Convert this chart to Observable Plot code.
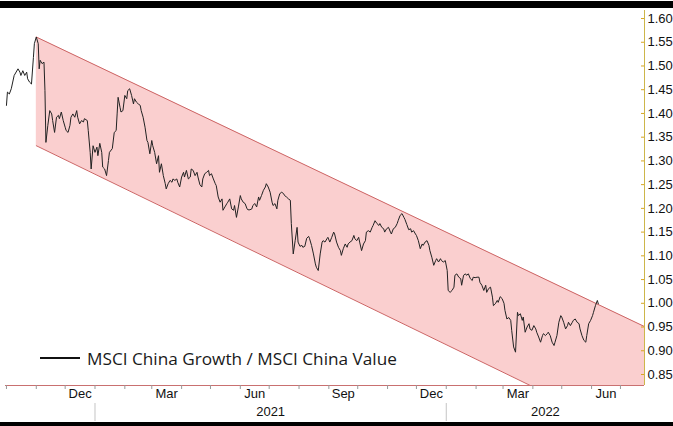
<!DOCTYPE html>
<html><head><meta charset="utf-8">
<script src="https://cdn.jsdelivr.net/npm/d3@7"></script>
<script src="https://cdn.jsdelivr.net/npm/@observablehq/plot@0.6"></script>
<style>
body{margin:0;background:#fff;overflow:hidden}
#wrap{position:relative;width:673px;height:426px;overflow:hidden}
.bar{position:absolute;left:0;width:673px;background:#000}
#legend{position:absolute;left:40px;top:346px;height:24px;display:flex;align-items:center;font-family:"Open Sans",sans-serif;font-size:17.2px;color:#1a1a1a;white-space:nowrap}
#legend .swatch{display:inline-block;width:40px;height:2px;background:#111;margin-right:7px}
</style></head><body>
<div id="wrap"></div>
<script>
const dates = ["2020-10-01","2020-10-02","2020-10-04","2020-10-06","2020-10-09","2020-10-13","2020-10-15","2020-10-16","2020-10-18","2020-10-20","2020-10-22","2020-10-23","2020-10-25","2020-10-27","2020-10-29","2020-10-30","2020-11-01","2020-11-03","2020-11-04","2020-11-05","2020-11-07","2020-11-09","2020-11-10","2020-11-11","2020-11-13","2020-11-15","2020-11-17","2020-11-18","2020-11-20","2020-11-22","2020-11-24","2020-11-25","2020-11-27","2020-11-29","2020-12-01","2020-12-02","2020-12-04","2020-12-06","2020-12-07","2020-12-09","2020-12-11","2020-12-13","2020-12-14","2020-12-16","2020-12-18","2020-12-20","2020-12-21","2020-12-24","2020-12-25","2020-12-27","2020-12-28","2020-12-30","2021-01-01","2021-01-03","2021-01-04","2021-01-06","2021-01-08","2021-01-09","2021-01-11","2021-01-13","2021-01-15","2021-01-16","2021-01-19","2021-01-21","2021-01-23","2021-01-24","2021-01-25","2021-01-27","2021-01-28","2021-01-30","2021-02-01","2021-02-03","2021-02-04","2021-02-06","2021-02-08","2021-02-10","2021-02-11","2021-02-13","2021-02-15","2021-02-17","2021-02-18","2021-02-20","2021-02-22","2021-02-24","2021-02-25","2021-02-27","2021-03-01","2021-03-02","2021-03-04","2021-03-06","2021-03-08","2021-03-09","2021-03-11","2021-03-13","2021-03-15","2021-03-16","2021-03-18","2021-03-20","2021-03-22","2021-03-23","2021-03-25","2021-03-27","2021-03-28","2021-03-30","2021-04-01","2021-04-03","2021-04-04","2021-04-06","2021-04-08","2021-04-10","2021-04-11","2021-04-13","2021-04-15","2021-04-17","2021-04-18","2021-04-20","2021-04-22","2021-04-23","2021-04-25","2021-04-27","2021-04-29","2021-04-30","2021-05-02","2021-05-04","2021-05-06","2021-05-07","2021-05-09","2021-05-11","2021-05-13","2021-05-14","2021-05-16","2021-05-18","2021-05-19","2021-05-21","2021-05-23","2021-05-25","2021-05-26","2021-05-28","2021-05-30","2021-06-01","2021-06-02","2021-06-04","2021-06-06","2021-06-08","2021-06-09","2021-06-11","2021-06-13","2021-06-14","2021-06-16","2021-06-18","2021-06-20","2021-06-21","2021-06-23","2021-06-25","2021-06-27","2021-06-28","2021-06-30","2021-07-02","2021-07-04","2021-07-05","2021-07-07","2021-07-09","2021-07-10","2021-07-12","2021-07-14","2021-07-16","2021-07-17","2021-07-19","2021-07-21","2021-07-23","2021-07-24","2021-07-26","2021-07-28","2021-07-30","2021-07-31","2021-08-02","2021-08-04","2021-08-05","2021-08-07","2021-08-09","2021-08-11","2021-08-12","2021-08-14","2021-08-16","2021-08-18","2021-08-19","2021-08-21","2021-08-23","2021-08-25","2021-08-26","2021-08-28","2021-08-30","2021-08-31","2021-09-02","2021-09-04","2021-09-06","2021-09-07","2021-09-09","2021-09-11","2021-09-13","2021-09-14","2021-09-16","2021-09-18","2021-09-20","2021-09-21","2021-09-23","2021-09-25","2021-09-27","2021-09-28","2021-09-30","2021-10-02","2021-10-03","2021-10-05","2021-10-07","2021-10-09","2021-10-10","2021-10-12","2021-10-14","2021-10-16","2021-10-17","2021-10-19","2021-10-21","2021-10-23","2021-10-24","2021-10-26","2021-10-28","2021-10-29","2021-10-31","2021-11-02","2021-11-04","2021-11-05","2021-11-07","2021-11-09","2021-11-11","2021-11-12","2021-11-14","2021-11-16","2021-11-18","2021-11-19","2021-11-21","2021-11-23","2021-11-25","2021-11-26","2021-11-28","2021-11-30","2021-12-01","2021-12-03","2021-12-05","2021-12-07","2021-12-08","2021-12-10","2021-12-12","2021-12-14","2021-12-15","2021-12-17","2021-12-19","2021-12-21","2021-12-22","2021-12-24","2021-12-26","2021-12-27","2021-12-29","2021-12-31","2022-01-02","2022-01-03","2022-01-05","2022-01-07","2022-01-09","2022-01-10","2022-01-12","2022-01-14","2022-01-16","2022-01-17","2022-01-19","2022-01-21","2022-01-22","2022-01-24","2022-01-26","2022-01-28","2022-01-29","2022-01-31","2022-02-02","2022-02-04","2022-02-05","2022-02-07","2022-02-09","2022-02-11","2022-02-12","2022-02-14","2022-02-16","2022-02-18","2022-02-19","2022-02-21","2022-02-23","2022-02-24","2022-02-26","2022-02-28","2022-03-02","2022-03-03","2022-03-05","2022-03-07","2022-03-09","2022-03-10","2022-03-12","2022-03-14","2022-03-16","2022-03-17","2022-03-19","2022-03-21","2022-03-22","2022-03-24","2022-03-26","2022-03-28","2022-03-29","2022-03-31","2022-04-02","2022-04-04","2022-04-05","2022-04-07","2022-04-09","2022-04-11","2022-04-12","2022-04-14","2022-04-16","2022-04-17","2022-04-19","2022-04-21","2022-04-23","2022-04-24","2022-04-26","2022-04-28","2022-04-30","2022-05-01","2022-05-03","2022-05-05","2022-05-07","2022-05-08","2022-05-10","2022-05-12","2022-05-13","2022-05-15","2022-05-17","2022-05-19","2022-05-20","2022-05-22","2022-05-24","2022-05-26","2022-05-27","2022-05-29","2022-05-31","2022-06-02","2022-06-03","2022-06-05","2022-06-07","2022-06-08"];
const values = [1.417,1.445,1.441,1.452,1.480,1.494,1.487,1.480,1.490,1.480,1.487,1.473,1.466,1.462,1.518,1.547,1.561,1.547,1.494,1.512,1.505,1.508,1.448,1.339,1.375,1.406,1.399,1.385,1.360,1.392,1.396,1.389,1.403,1.385,1.371,1.364,1.360,1.375,1.392,1.399,1.392,1.406,1.392,1.378,1.385,1.382,1.389,1.385,1.364,1.318,1.283,1.332,1.318,1.329,1.311,1.337,1.318,1.287,1.283,1.269,1.301,1.318,1.326,1.360,1.364,1.399,1.434,1.413,1.403,1.406,1.438,1.431,1.448,1.452,1.438,1.420,1.431,1.424,1.420,1.417,1.406,1.392,1.371,1.343,1.339,1.315,1.343,1.332,1.318,1.294,1.311,1.276,1.294,1.269,1.252,1.241,1.252,1.259,1.255,1.262,1.259,1.262,1.255,1.245,1.266,1.276,1.266,1.280,1.262,1.266,1.283,1.280,1.269,1.276,1.266,1.250,1.245,1.262,1.273,1.276,1.280,1.269,1.273,1.262,1.252,1.248,1.224,1.213,1.220,1.196,1.203,1.210,1.213,1.220,1.199,1.196,1.206,1.181,1.203,1.227,1.220,1.213,1.210,1.199,1.197,1.197,1.199,1.206,1.210,1.203,1.224,1.217,1.227,1.238,1.245,1.252,1.245,1.234,1.213,1.206,1.210,1.199,1.217,1.231,1.234,1.231,1.227,1.224,1.220,1.217,1.168,1.104,1.132,1.160,1.129,1.120,1.122,1.118,1.120,1.137,1.141,1.136,1.122,1.104,1.083,1.076,1.069,1.104,1.129,1.132,1.129,1.136,1.139,1.129,1.139,1.150,1.146,1.129,1.118,1.111,1.101,1.115,1.125,1.118,1.125,1.129,1.132,1.143,1.136,1.132,1.139,1.129,1.111,1.125,1.132,1.150,1.153,1.150,1.160,1.164,1.174,1.168,1.164,1.168,1.160,1.157,1.150,1.157,1.160,1.150,1.146,1.157,1.160,1.168,1.174,1.185,1.189,1.181,1.177,1.166,1.155,1.157,1.150,1.153,1.146,1.143,1.132,1.115,1.125,1.122,1.129,1.132,1.122,1.111,1.097,1.080,1.090,1.094,1.087,1.094,1.090,1.087,1.090,1.069,1.027,1.023,1.027,1.034,1.059,1.062,1.055,1.052,1.038,1.059,1.062,1.059,1.062,1.052,1.048,1.055,1.054,1.055,1.055,1.044,1.038,1.027,1.038,1.023,1.031,1.034,1.013,0.995,0.999,1.006,1.002,1.014,1.010,1.000,0.985,0.967,0.970,0.964,0.943,0.908,0.897,0.981,0.974,0.978,0.964,0.971,0.939,0.950,0.957,0.946,0.943,0.953,0.946,0.939,0.929,0.918,0.932,0.936,0.932,0.936,0.939,0.932,0.918,0.911,0.918,0.932,0.960,0.974,0.971,0.960,0.946,0.953,0.960,0.953,0.960,0.964,0.967,0.960,0.957,0.946,0.932,0.922,0.918,0.932,0.957,0.964,0.974,0.981,0.995,1.006,0.999];

const channelDates = ["2020-11-01","2022-07-26"];
const channelUpper = [1.561, 0.951];
const channelLower = [1.332, 0.710];

const yTicks = [0.85,0.90,0.95,1.00,1.05,1.10,1.15,1.20,1.25,1.30,1.35,1.40,1.45,1.50,1.55,1.60];
const monthLabelKeys = ["2020-12","2021-03","2021-06","2021-09","2021-12","2022-03","2022-06"];
const monthLabelTexts = ["Dec","Mar","Jun","Sep","Dec","Mar","Jun"];
const yearLabels = ["2021","2022"];
const seriesName = "MSCI China Growth / MSCI China Value";

const xDomain = [new Date("2020-09-30"), new Date("2022-07-26")];
const yDomain = [0.8268, 1.6169];

const data = dates.map((d, i) => ({date: new Date(d), value: values[i]}));
const channel = channelDates.map((d, i) => ({date: new Date(d), upper: channelUpper[i], lower: channelLower[i]}));
const monthStarts = d3.utcMonth.range(d3.utcMonth.ceil(xDomain[0]), xDomain[1]);
const monthLabels = monthLabelKeys.map((k, i) => {
  const s = new Date(k + "-01"), e = d3.utcMonth.offset(s, 1);
  return {mid: new Date((+s + +e) / 2), label: monthLabelTexts[i]};
});
const yearData = yearLabels.map(y => {
  const s = new Date(Math.max(+new Date(y + "-01-01"), +xDomain[0]));
  const e = new Date(Math.min(+new Date((+y + 1) + "-01-01"), +xDomain[1]));
  return {mid: new Date((+s + +e) / 2), label: y, start: new Date(y + "-01-01")};
});

const W = 673, H = 426, mL = 5, mR = 29, mT = 10, mB = 41;
const frameW = W - mL - mR, frameH = H - mT - mB;
const narrow = '"Liberation Sans Narrow","Arial Narrow","Liberation Sans",sans-serif';
const axisFont = '"Liberation Sans",Arial,sans-serif';
const pinkLine = "#cc6464";

const chart = Plot.plot({
  width: W, height: H,
  marginTop: mT, marginBottom: mB, marginLeft: mL, marginRight: mR,
  x: {type: "utc", domain: xDomain, axis: null},
  y: {domain: yDomain, axis: null},
  style: {background: "transparent", overflow: "visible"},
  marks: [
    Plot.areaY(channel, {x: "date", y1: "lower", y2: "upper", fill: "#facfcf", clip: true}),
    Plot.lineY(channel, {x: "date", y: "upper", stroke: pinkLine, strokeWidth: 1, clip: true}),
    Plot.lineY(channel, {x: "date", y: "lower", stroke: pinkLine, strokeWidth: 1, clip: true}),
    Plot.ruleY([yDomain[0]], {stroke: "#c97070", strokeWidth: 1}),
    Plot.tickX(monthStarts, {x: d => d, insetTop: frameH, insetBottom: -4, stroke: "#999", strokeWidth: 1}),
    Plot.text(monthLabels, {x: "mid", text: "label", frameAnchor: "bottom", dy: 12, fontSize: 13, fontFamily: narrow, fill: "#111"}),
    Plot.text(yearData, {x: "mid", text: "label", frameAnchor: "bottom", dy: 30, fontSize: 13, fontFamily: narrow, fill: "#111"}),
    Plot.ruleX(yearData, {x: "start", insetTop: frameH + 18, insetBottom: -36, stroke: "#c4c4c4", strokeWidth: 1}),
    Plot.ruleX([xDomain[1]], {stroke: "#cdb64a", strokeWidth: 1}),
    Plot.tickY(yTicks, {y: d => d, insetLeft: frameW - 3, stroke: "#d9a520", strokeWidth: 1}),
    Plot.axisY(yTicks, {anchor: "right", tickSize: 0, tickPadding: 3, tickFormat: d => d.toFixed(2), fontSize: 13, fontFamily: axisFont, fill: "#111", textAnchor: "start"}),
    Plot.lineY(data, {x: "date", y: "value", stroke: "#222", strokeWidth: 1}),
  ]
});

const wrap = document.getElementById("wrap");
chart.style.position = "absolute"; chart.style.left = "0"; chart.style.top = "0";
wrap.appendChild(chart);
const topBar = document.createElement("div"); topBar.className = "bar"; topBar.style.top = "1px"; topBar.style.height = "7px"; wrap.appendChild(topBar);
const botBar = document.createElement("div"); botBar.className = "bar"; botBar.style.top = "422px"; botBar.style.height = "4px"; wrap.appendChild(botBar);
const legend = document.createElement("div"); legend.id = "legend";
legend.innerHTML = '<span class="swatch"></span><span></span>';
legend.lastChild.textContent = seriesName;
wrap.appendChild(legend);
</script>
</body></html>
